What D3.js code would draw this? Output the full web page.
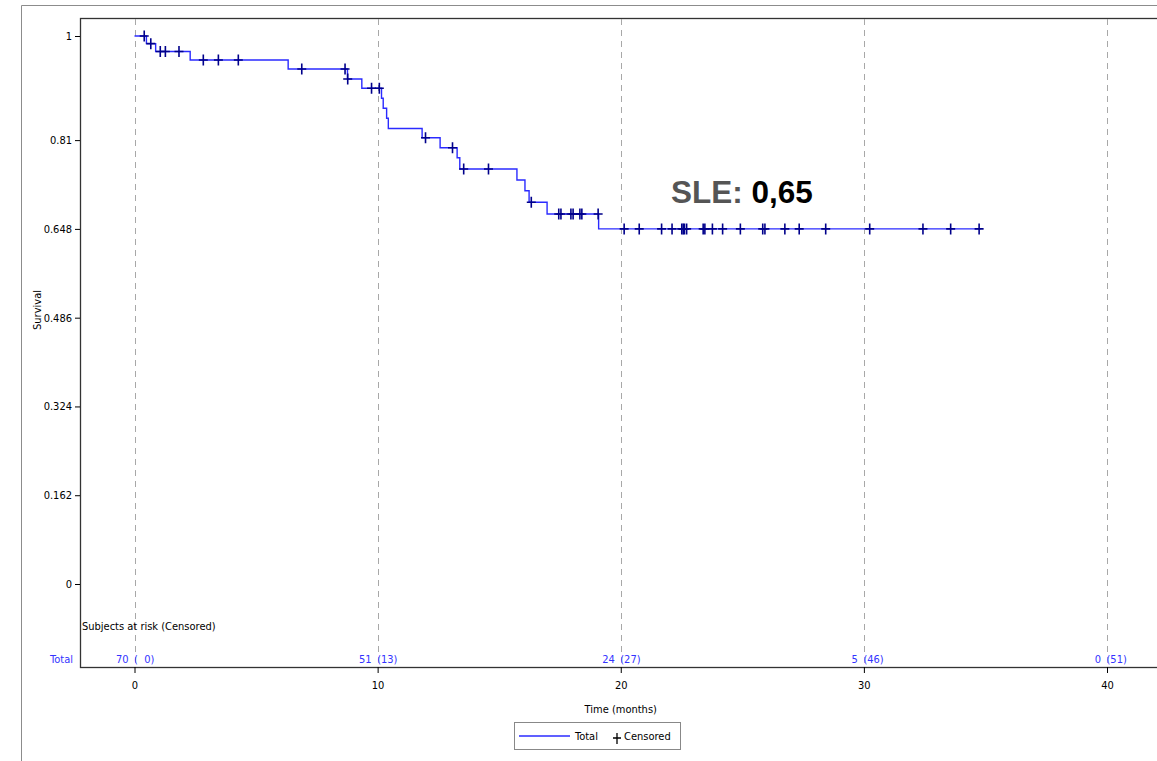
<!DOCTYPE html>
<html>
<head>
<meta charset="utf-8">
<script src="https://cdn.jsdelivr.net/npm/d3@7"></script>
<style>
  body { margin: 0; background: #fff; }
  text { font-family: "DejaVu Sans Condensed", "Liberation Sans Narrow", "DejaVu Sans", sans-serif; }
</style>
</head>
<body>
<script>
// Kaplan-Meier steps (time in months, survival after the drop)
const stepTimes = [0.49, 0.87, 2.29, 6.32, 8.76, 9.35, 10.16, 10.23, 10.37, 10.44,
  11.83, 12.57, 13.27, 13.38, 15.73, 16.06, 16.23, 16.97, 19.09]
const stepSurvival = [0.986, 0.9717, 0.9562, 0.9398, 0.9215, 0.9046, 0.8863, 0.8681, 0.8498, 0.8312,
  0.8144, 0.7962, 0.7779, 0.7573, 0.7372, 0.7177, 0.6965, 0.6752, 0.648]
const lastTime = 34.8

// censored subjects (time in months)
const censorTimes = [0.40, 0.67, 1.06, 1.27, 1.83, 2.83, 3.45, 4.27, 6.88, 8.66, 8.77, 9.75,
  10.07, 11.97, 13.08, 13.54, 14.56, 16.32, 17.45, 17.54, 17.95, 18.04, 18.32, 18.40, 19.07,
  20.14, 20.76, 21.68, 22.11, 22.51, 22.57, 22.62, 22.71, 23.39, 23.46, 23.77, 24.19, 24.92,
  25.84, 25.93, 26.75, 27.34, 28.43, 30.24, 32.43, 33.57, 34.74]

// subjects at risk table
const riskTimes = [0, 10, 20, 30, 40]
const riskAtRisk = [70, 51, 24, 5, 0]
const riskCensored = [0, 13, 27, 46, 51]

const xTicks = [0, 10, 20, 30, 40]
const yTicks = [0, 0.162, 0.324, 0.486, 0.648, 0.81, 1]

const width = 1157
const height = 761
const plotLeft = 80, plotTop = 18, plotBottom = 667, plotRight = 1170

const x = d3.scaleLinear().domain([0, 40]).range([134.5, 1107])
const y = d3.scaleLinear().domain([0, 1]).range([584, 36])

const svg = d3.select("body").append("svg")
  .attr("width", width)
  .attr("height", height)

// outer border
svg.append("path")
  .attr("d", `M21.5,${height} V5.5 H${width + 5}`)
  .attr("fill", "none").attr("stroke", "#8c8c8c").attr("stroke-width", 1)

// plot frame
svg.append("rect")
  .attr("x", plotLeft + 0.5).attr("y", plotTop + 0.5)
  .attr("width", plotRight - plotLeft).attr("height", plotBottom - plotTop)
  .attr("fill", "none").attr("stroke", "#333").attr("stroke-width", 1.3)

// dashed vertical grid
svg.append("g").selectAll("line")
  .data(xTicks)
  .enter().append("line")
  .attr("x1", d => Math.round(x(d)) + 0.5).attr("x2", d => Math.round(x(d)) + 0.5)
  .attr("y1", plotTop + 1).attr("y2", plotBottom)
  .attr("stroke", "#a8a8a8").attr("stroke-dasharray", "6,5")

// axes
const yAxis = svg.append("g")
  .attr("transform", `translate(${plotLeft},0)`)
  .call(d3.axisLeft(y).tickValues(yTicks).tickFormat(d => String(d)).tickSize(5).tickSizeOuter(0))
yAxis.select(".domain").remove()
yAxis.selectAll("text").attr("font-size", 11).attr("fill", "#000")

const xAxis = svg.append("g")
  .attr("transform", `translate(0,${plotBottom})`)
  .call(d3.axisBottom(x).tickValues(xTicks).tickFormat(d => String(d)).tickSize(6).tickSizeOuter(0))
xAxis.select(".domain").remove()
xAxis.selectAll("text").attr("font-size", 11).attr("fill", "#000").attr("dy", "1.2em")

svg.append("text")
  .attr("transform", "translate(41,310) rotate(-90)")
  .attr("text-anchor", "middle").attr("font-size", 11)
  .text("Survival")

svg.append("text")
  .attr("x", x(20)).attr("y", 713)
  .attr("text-anchor", "middle").attr("font-size", 11)
  .text("Time (months)")

// survival curve
const pts = [[0, 1]].concat(stepTimes.map((t, i) => [t, stepSurvival[i]]))
pts.push([lastTime, stepSurvival[stepSurvival.length - 1]])

const line = d3.line()
  .x(d => x(d[0]))
  .y(d => y(d[1]))
  .curve(d3.curveStepAfter)

svg.append("path")
  .datum(pts)
  .attr("d", line)
  .attr("fill", "none")
  .attr("stroke", "#2b2bff")
  .attr("stroke-width", 1.4)

function survAt(t) {
  let s = 1
  stepTimes.forEach((st, i) => { if (st <= t) s = stepSurvival[i] })
  return s
}

// censored marks
svg.append("g").selectAll("path")
  .data(censorTimes)
  .enter().append("path")
  .attr("d", d => {
    const cx = x(d), cy = y(survAt(d))
    return `M${cx - 4.5},${cy} H${cx + 4.5} M${cx},${cy - 5.5} V${cy + 5.5}`
  })
  .attr("stroke", "#00008b")
  .attr("stroke-width", 1.6)
  .attr("fill", "none")

// annotation
const ann = svg.append("text")
  .attr("x", 671).attr("y", 203)
  .attr("font-size", 31.5).attr("font-weight", "bold")
  .style("font-family", "'Liberation Sans', Arial, sans-serif")
ann.append("tspan").attr("fill", "#555").text("SLE: ")
ann.append("tspan").attr("fill", "#000").text("0,65")

// at-risk table
svg.append("text")
  .attr("x", 82).attr("y", 630)
  .attr("font-size", 11)
  .text("Subjects at risk (Censored)")

svg.append("text")
  .attr("x", 73).attr("y", 663)
  .attr("text-anchor", "end").attr("font-size", 11).attr("fill", "#3333ff")
  .text("Total")

const risk = svg.append("g").selectAll("g")
  .data(riskTimes)
  .enter().append("g")
risk.append("text")
  .attr("x", d => x(d) - 6).attr("y", 663)
  .attr("text-anchor", "end").attr("font-size", 11).attr("fill", "#3333ff")
  .text((d, i) => riskAtRisk[i])
risk.append("text")
  .attr("x", d => x(d) - 0.5).attr("y", 663)
  .attr("font-size", 11).attr("fill", "#3333ff")
  .attr("xml:space", "preserve")
  .text((d, i) => "(" + String(riskCensored[i]).padStart(2, "\u2007") + ")")

// legend
const lg = svg.append("g")
lg.append("rect")
  .attr("x", 514.5).attr("y", 722.5).attr("width", 166).attr("height", 27)
  .attr("fill", "#fff").attr("stroke", "#888")
lg.append("line")
  .attr("x1", 519).attr("x2", 570).attr("y1", 736).attr("y2", 736)
  .attr("stroke", "#2b2bff").attr("stroke-width", 1.4)
lg.append("text").attr("x", 575).attr("y", 740).attr("font-size", 11).text("Total")
lg.append("path")
  .attr("d", "M613,738 H621 M617,733 V744")
  .attr("stroke", "#000").attr("stroke-width", 1.3)
lg.append("text").attr("x", 624).attr("y", 740).attr("font-size", 11).text("Censored")
</script>
</body>
</html>
